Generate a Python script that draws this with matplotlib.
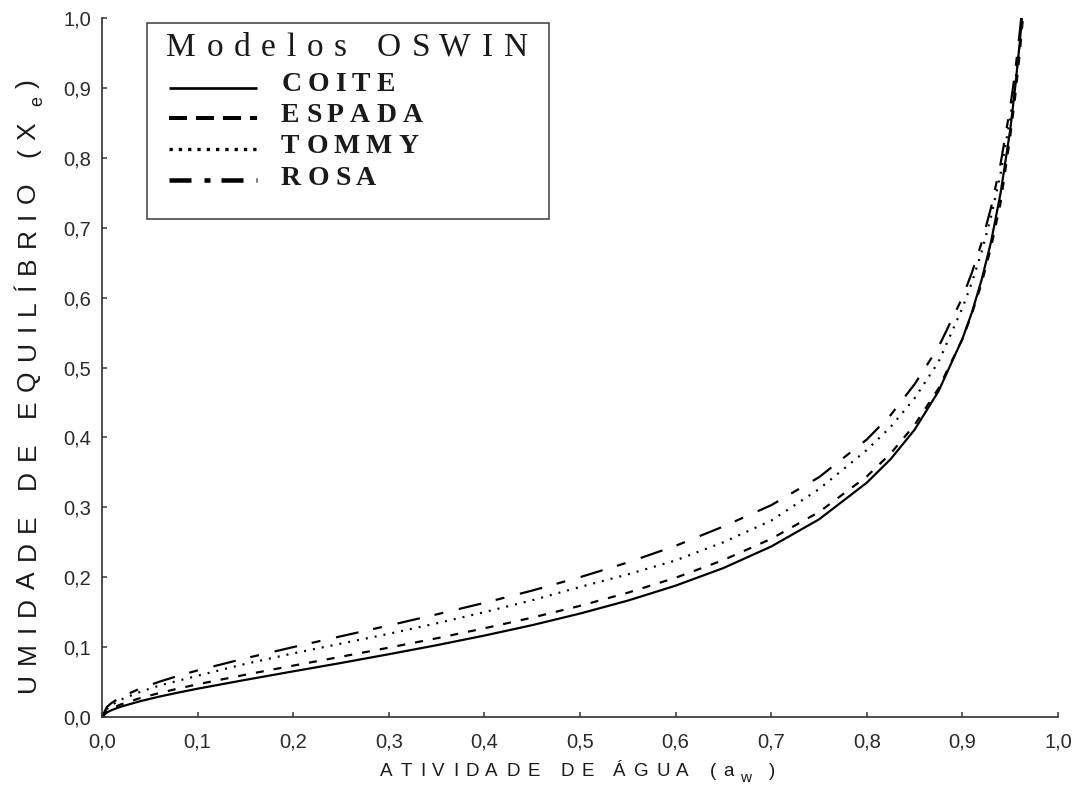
import matplotlib
matplotlib.use("Agg")
import matplotlib.pyplot as plt
from matplotlib.font_manager import FontProperties, findfont, get_font
from matplotlib.patches import Rectangle
from matplotlib.lines import Line2D

plt.rcParams['lines.scale_dashes'] = False

W, H, DPI = 1087, 796, 100
PT = 72.0 / DPI  # points per pixel

# ---------------- data ----------------
aw = [0.0, 0.005, 0.01, 0.02, 0.04, 0.06, 0.08, 0.10, 0.15, 0.20, 0.25, 0.30,
      0.35, 0.40, 0.45, 0.50, 0.55, 0.60, 0.65, 0.70, 0.75, 0.80, 0.825, 0.85,
      0.875, 0.90, 0.91, 0.92, 0.93, 0.94, 0.95, 0.955, 0.96, 0.964]

coite = [0.0, 0.0065, 0.0098, 0.0149, 0.0226, 0.0292, 0.0350, 0.0405, 0.0531,
         0.0653, 0.0773, 0.0898, 0.1027, 0.1165, 0.1314, 0.148, 0.1665, 0.1879,
         0.2131, 0.2439, 0.2827, 0.3352, 0.369, 0.411, 0.466, 0.541, 0.579,
         0.625, 0.680, 0.750, 0.840, 0.898, 0.965, 1.029]

espada = [0.0, 0.0083, 0.0123, 0.0182, 0.0271, 0.0343, 0.0408, 0.0468, 0.0605,
          0.0735, 0.0862, 0.0992, 0.1126, 0.1269, 0.1422, 0.159, 0.1778, 0.1992,
          0.2245, 0.2549, 0.2932, 0.3441, 0.3771, 0.4178, 0.470, 0.5406, 0.577,
          0.620, 0.672, 0.736, 0.830, 0.885, 0.950, 1.010]

tommy = [0.0, 0.011, 0.017, 0.025, 0.036, 0.045, 0.052, 0.059, 0.076, 0.091,
         0.105, 0.119, 0.134, 0.150, 0.167, 0.186, 0.204, 0.224, 0.250, 0.281,
         0.326, 0.382, 0.415, 0.456, 0.508, 0.585, 0.622, 0.665, 0.716, 0.778,
         0.857, 0.905, 0.962, 1.030]

rosa = [0.0, 0.0142, 0.0201, 0.0286, 0.0408, 0.0505, 0.0590, 0.0667, 0.0840,
        0.100, 0.1155, 0.1309, 0.1468, 0.1633, 0.1809, 0.200, 0.2211, 0.2449,
        0.2726, 0.303, 0.343, 0.397, 0.432, 0.4761, 0.5292, 0.600, 0.636,
        0.678, 0.729, 0.792, 0.872, 0.921, 0.980, 1.035]

series_names = ["COITE", "ESPADA", "TOMMY", "ROSA"]
series_values = [coite, espada, tommy, rosa]

x_ticks = [0.0, 0.1, 0.2, 0.3, 0.4, 0.5, 0.6, 0.7, 0.8, 0.9, 1.0]
x_tick_labels = ["0,0", "0,1", "0,2", "0,3", "0,4", "0,5", "0,6", "0,7",
                 "0,8", "0,9", "1,0"]
y_ticks = [0.0, 0.1, 0.2, 0.3, 0.4, 0.5, 0.6, 0.7, 0.8, 0.9, 1.0]
y_tick_labels = ["0,0", "0,1", "0,2", "0,3", "0,4", "0,5", "0,6", "0,7",
                 "0,8", "0,9", "1,0"]

legend_title = "Modelos OSWIN"
x_label_main, x_label_sub, x_label_end = "ATIVIDADE DE ÁGUA (a", "w", ")"
y_label_main, y_label_sub, y_label_end = "UMIDADE DE EQUILÍBRIO (X", "e", ")"

# ---------------- styles ----------------
plot_styles = [
    dict(linestyle='-', lw=2.2 * PT),
    dict(linestyle=(0, (8 * PT, 10 * PT)), lw=2.2 * PT),
    dict(linestyle=(0, (2 * PT, 7 * PT)), lw=2.2 * PT),
    dict(linestyle=(0, (23 * PT, 15 * PT, 9 * PT, 16 * PT)), lw=2.2 * PT),
]
legend_styles = [
    dict(linestyle='-', lw=2.7 * PT),
    dict(linestyle=(0, (18 * PT, 9 * PT)), lw=4.0 * PT),
    dict(linestyle=(0, (3.3 * PT, 6 * PT)), lw=3.3 * PT),
    dict(linestyle=(0, (22 * PT, 13 * PT, 6 * PT, 11 * PT)), lw=4.5 * PT),
]

AX_COLOR = '#333333'
TXT_COLOR = '#1a1a1a'

fig = plt.figure(figsize=(W / DPI, H / DPI), dpi=DPI)
fig.patch.set_facecolor('white')
ax = fig.add_axes([102 / W, 1 - 717 / H, (1058 - 102) / W, (717 - 18) / H])

for vals, st in zip(series_values, plot_styles):
    ax.plot(aw, vals, color='black', solid_capstyle='butt', **st)

ax.set_xlim(0, 1)
ax.set_ylim(0, 1)
for s in ('top', 'right'):
    ax.spines[s].set_visible(False)
for s in ('left', 'bottom'):
    ax.spines[s].set_color(AX_COLOR)
    ax.spines[s].set_linewidth(1.7 * PT)

tick_font = FontProperties(family='Liberation Sans', size=14.5)
ax.set_xticks(x_ticks)
ax.set_xticklabels(x_tick_labels, fontproperties=tick_font, color='#2a2a2a')
ax.set_yticks(y_ticks)
ax.set_yticklabels(y_tick_labels, fontproperties=tick_font, color='#2a2a2a')
ax.tick_params(axis='both', direction='in', length=5 * PT, width=1.5 * PT,
               color=AX_COLOR)
ax.tick_params(axis='x', pad=16 * PT)
ax.tick_params(axis='y', pad=11 * PT)


def glyph_metrics(ch, prop):
    font = get_font(findfont(prop))
    font.set_size(prop.get_size_in_points(), DPI)
    g = font.load_char(ord(ch))
    return g.linearHoriAdvance / 65536.0, g.horiBearingX / 64.0


def tracked(x0, y0, segments, rotation=0, color=TXT_COLOR):
    """Letter-spaced text. segments: (text, FontProperties, baseline_shift_px,
    tracking_px, lead_px). x0, y0 in image pixels (y from top)."""
    pos = 0.0
    for text, prop, shift, track, lead in segments:
        pos += lead
        for ch in text:
            adv, lsb = glyph_metrics(ch, prop)
            if ch != ' ':
                if rotation == 0:
                    fig.text((x0 + pos + lsb) / W, 1 - (y0 + shift) / H, ch,
                             fontproperties=prop, ha='left', va='baseline',
                             color=color)
                else:
                    fig.text((x0 + shift) / W, 1 - (y0 - pos - lsb) / H, ch,
                             fontproperties=prop, ha='left', va='baseline',
                             rotation=90, rotation_mode='anchor', color=color)
            pos += adv + track
    return pos


# x label
xl_big = FontProperties(family='Liberation Sans', size=13.5)
xl_small = FontProperties(family='Liberation Sans', size=11)
tracked(380, 776, [(x_label_main, xl_big, 0, 7.5, 0),
                   (x_label_sub, xl_small, 6, 7.5, 0),
                   (x_label_end, xl_big, 0, 7.5, 10)])

# y label
yl_big = FontProperties(family='Liberation Sans', size=19)
yl_small = FontProperties(family='Liberation Sans', size=13)
tracked(35, 694, [(y_label_main, yl_big, 0, 9.3, 0),
                  (y_label_sub, yl_small, 7, 9.3, 6),
                  (y_label_end, yl_big, 0, 9.3, 0)], rotation=90)

# legend box
fig.add_artist(Rectangle((147 / W, 1 - 219 / H), (549 - 147) / W, (219 - 23) / H,
                         transform=fig.transFigure, facecolor='white',
                         edgecolor='#444444', lw=1.6 * PT, zorder=3))

title_font = FontProperties(family='Liberation Serif', size=24)
tracked(165, 56, [(legend_title, title_font, 0, 10.6, 0)])

entry_font = FontProperties(family='Liberation Serif', size=20, weight='bold')
entry_baselines = [91, 122, 153, 185]
line_rows = [88, 118, 149, 180]
for name, st, yb, yl in zip(series_names, legend_styles, entry_baselines, line_rows):
    fig.add_artist(Line2D([169 / W, 257 / W], [1 - yl / H, 1 - yl / H],
                          transform=fig.transFigure, color='black',
                          solid_capstyle='butt', zorder=4, **st))
    tracked(280, yb, [(name, entry_font, 0, 6.3, 0)])

fig.savefig("out.png", dpi=DPI, facecolor='white')
